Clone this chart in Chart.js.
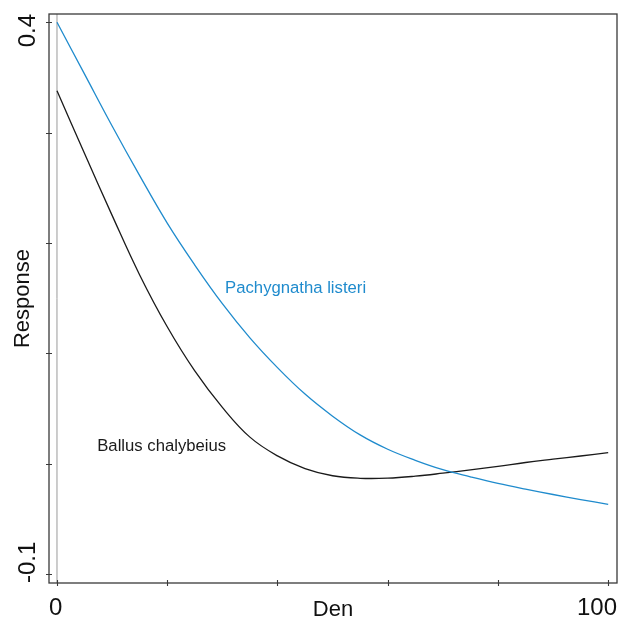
<!DOCTYPE html>
<html>
<head>
<meta charset="utf-8">
<script src="https://cdn.jsdelivr.net/npm/chart.js@4.4.1/dist/chart.umd.min.js"></script>
<style>
  html, body { margin: 0; padding: 0; background: #fff; }
  canvas { display: block; }
</style>
</head>
<body>
<canvas id="c" width="619" height="620"></canvas>
<script>
// values
const den = [0, 5, 10, 15, 20, 25, 30, 35, 40, 45, 50, 55, 60, 65, 70, 75, 80, 85, 90, 95, 100];
const pachygnatha = [0.400, 0.353, 0.306, 0.261, 0.218, 0.180, 0.145, 0.114, 0.087, 0.063, 0.043, 0.026, 0.013, 0.003, -0.0055, -0.0120, -0.0180, -0.0232, -0.0280, -0.0326, -0.0369];
const ballus = [0.338, 0.281, 0.225, 0.171, 0.124, 0.084, 0.051, 0.024, 0.007, -0.0045, -0.0110, -0.0133, -0.0132, -0.0114, -0.0087, -0.0057, -0.0025, 0.0010, 0.0040, 0.0069, 0.0099];

const xTicks = [0, 20, 40, 60, 80, 100];
const xTickLabels = ['0', '', '', '', '', '100'];
const yTicks = [-0.1, 0, 0.1, 0.2, 0.3, 0.4];
const yTickLabels = ['-0.1', '', '', '', '', '0.4'];

const seriesNames = ['Pachygnatha listeri', 'Ballus chalybeius'];
const labelAt = [[30.5, 0.155], [7.3, 0.011]];   // where the curve names sit (data units)

const BLUE = '#1f8bcd';
const FONT = '"Liberation Sans", Arial, sans-serif';

const toPts = ys => den.map((x, i) => ({ x, y: ys[i] }));

const framePlugin = {
    id: 'frame',
    beforeDatasetsDraw(chart) {
        const { ctx, chartArea: a, scales: { x } } = chart;
        const x0 = x.getPixelForValue(0);
        ctx.save();
        ctx.strokeStyle = '#9a9a9a';
        ctx.lineWidth = 1;
        ctx.beginPath();
        ctx.moveTo(x0, a.top); ctx.lineTo(x0, a.bottom);
        ctx.stroke();
        ctx.restore();
    },
    afterDraw(chart) {
        const { ctx, chartArea: a, scales: { x, y } } = chart;
        ctx.save();
        ctx.strokeStyle = '#3a3a3a';
        ctx.lineWidth = 1.3;
        ctx.strokeRect(a.left, a.top, a.right - a.left, a.bottom - a.top);

        // tick marks straddle the frame
        ctx.lineWidth = 1.1;
        ctx.beginPath();
        xTicks.forEach(v => {
            const px = Math.round(x.getPixelForValue(v)) + 0.5;
            ctx.moveTo(px, a.bottom - 3); ctx.lineTo(px, a.bottom + 3);
        });
        yTicks.forEach(v => {
            const py = Math.round(y.getPixelForValue(v)) + 0.5;
            ctx.moveTo(a.left - 3, py); ctx.lineTo(a.left + 3, py);
        });
        ctx.stroke();

        // tick labels, end ones pulled in to the frame edges
        ctx.fillStyle = '#111';
        ctx.font = '24px ' + FONT;
        ctx.textBaseline = 'alphabetic';
        xTicks.forEach((v, i) => {
            const t = xTickLabels[i];
            if (!t) return;
            const px = x.getPixelForValue(v);
            if (i === 0) { ctx.textAlign = 'left'; ctx.fillText(t, a.left, 615); }
            else if (i === xTicks.length - 1) { ctx.textAlign = 'right'; ctx.fillText(t, a.right, 615); }
            else { ctx.textAlign = 'center'; ctx.fillText(t, px, 615); }
        });
        yTicks.forEach((v, i) => {
            const t = yTickLabels[i];
            if (!t) return;
            ctx.save();
            let py = y.getPixelForValue(v);
            if (i === 0) { py = a.bottom; ctx.textAlign = 'left'; }
            else if (i === yTicks.length - 1) { py = a.top; ctx.textAlign = 'right'; }
            else ctx.textAlign = 'center';
            ctx.translate(35, py);
            ctx.rotate(-Math.PI / 2);
            ctx.fillText(t, 0, 0);
            ctx.restore();
        });

        // axis titles
        ctx.font = '22px ' + FONT;
        ctx.textAlign = 'center';
        ctx.fillText('Den', (a.left + a.right) / 2, 616);
        ctx.save();
        ctx.translate(29, (a.top + a.bottom) / 2);
        ctx.rotate(-Math.PI / 2);
        ctx.fillText('Response', 0, 0);
        ctx.restore();

        // curve names
        ctx.font = '16.7px ' + FONT;
        ctx.textAlign = 'left';
        ctx.fillStyle = BLUE;
        ctx.fillText(seriesNames[0], x.getPixelForValue(labelAt[0][0]), y.getPixelForValue(labelAt[0][1]));
        ctx.fillStyle = '#1a1a1a';
        ctx.fillText(seriesNames[1], x.getPixelForValue(labelAt[1][0]), y.getPixelForValue(labelAt[1][1]));
        ctx.restore();
    }
};

new Chart(document.getElementById('c'), {
    type: 'scatter',
    data: {
        datasets: [
            { label: seriesNames[0], data: toPts(pachygnatha), borderColor: BLUE, borderWidth: 1.3, showLine: true, pointRadius: 0, tension: 0.4 },
            { label: seriesNames[1], data: toPts(ballus), borderColor: '#1a1a1a', borderWidth: 1.3, showLine: true, pointRadius: 0, tension: 0.4 }
        ]
    },
    options: {
        responsive: false,
        animation: false,
        devicePixelRatio: 1,
        layout: { padding: { left: 49, top: 14, right: 2, bottom: 37 } },
        plugins: { legend: { display: false }, tooltip: { enabled: false } },
        scales: {
            x: { type: 'linear', display: false, min: -1.45, max: 101.6 },
            y: { type: 'linear', display: false, min: -0.1082, max: 0.4075 }
        }
    },
    plugins: [framePlugin]
});
</script>
</body>
</html>
